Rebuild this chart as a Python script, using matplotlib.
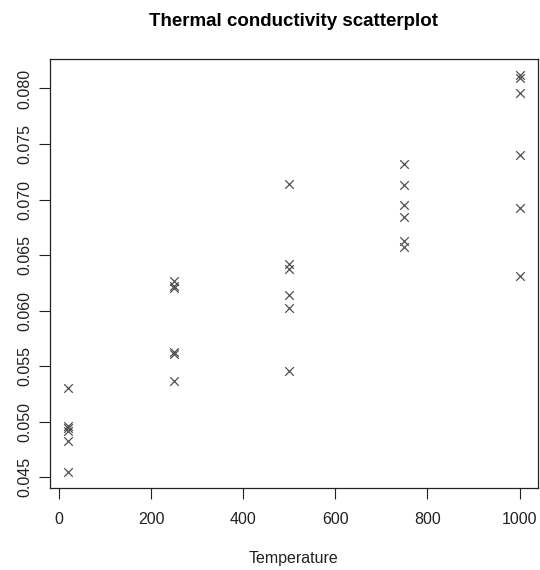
import numpy as np
import matplotlib.pyplot as plt

plt.rcParams['font.family'] = ['Liberation Sans', 'DejaVu Sans']

temps = [20, 250, 500, 750, 1000]
cond_20 = [0.0530, 0.0496, 0.0494, 0.0492, 0.0483, 0.0455]
cond_250 = [0.0627, 0.0622, 0.0620, 0.0563, 0.0561, 0.0537]
cond_500 = [0.0714, 0.0642, 0.0638, 0.0614, 0.0602, 0.0546]
cond_750 = [0.0732, 0.0713, 0.0695, 0.0684, 0.0663, 0.0657]
cond_1000 = [0.0812, 0.0809, 0.0796, 0.0740, 0.0692, 0.0631]

groups = [cond_20, cond_250, cond_500, cond_750, cond_1000]
x = np.concatenate([[t] * len(g) for t, g in zip(temps, groups)])
y = np.concatenate(groups)

fig = plt.figure(figsize=(5.4, 5.7), dpi=100)
ax = fig.add_axes([50 / 540, 1 - 487.7 / 570, 487.7 / 540, 428.4 / 570])

ax.scatter(x, y, marker='x', s=38, color='#505050', linewidths=0.9)

# R style 4% padding
xr = x.max() - x.min()
yr = y.max() - y.min()
ax.set_xlim(x.min() - 0.04 * xr, x.max() + 0.04 * xr)
ax.set_ylim(y.min() - 0.04 * yr, y.max() + 0.04 * yr)

ax.set_xticks([0, 200, 400, 600, 800, 1000])
ax.set_yticks([0.045, 0.050, 0.055, 0.060, 0.065, 0.070, 0.075, 0.080])
ax.set_yticklabels(['0.045', '0.050', '0.055', '0.060', '0.065', '0.070', '0.075', '0.080'],
                   rotation=90, va='center')
ax.tick_params(direction='out', length=8, width=0.8, labelsize=11.5, colors='#222222')
ax.tick_params(axis='x', pad=9.5)
ax.tick_params(axis='y', pad=5)
for s in ax.spines.values():
    s.set_linewidth(0.9)
    s.set_color('#222222')

ax.set_xlabel('Temperature', fontsize=11.5, labelpad=17, color='#222222')
fig.text(293.5 / 540, 1 - 22 / 570, 'Thermal conductivity scatterplot',
         ha='center', va='center', fontsize=13.5, fontweight='bold')

plt.savefig('out.png', dpi=100)
